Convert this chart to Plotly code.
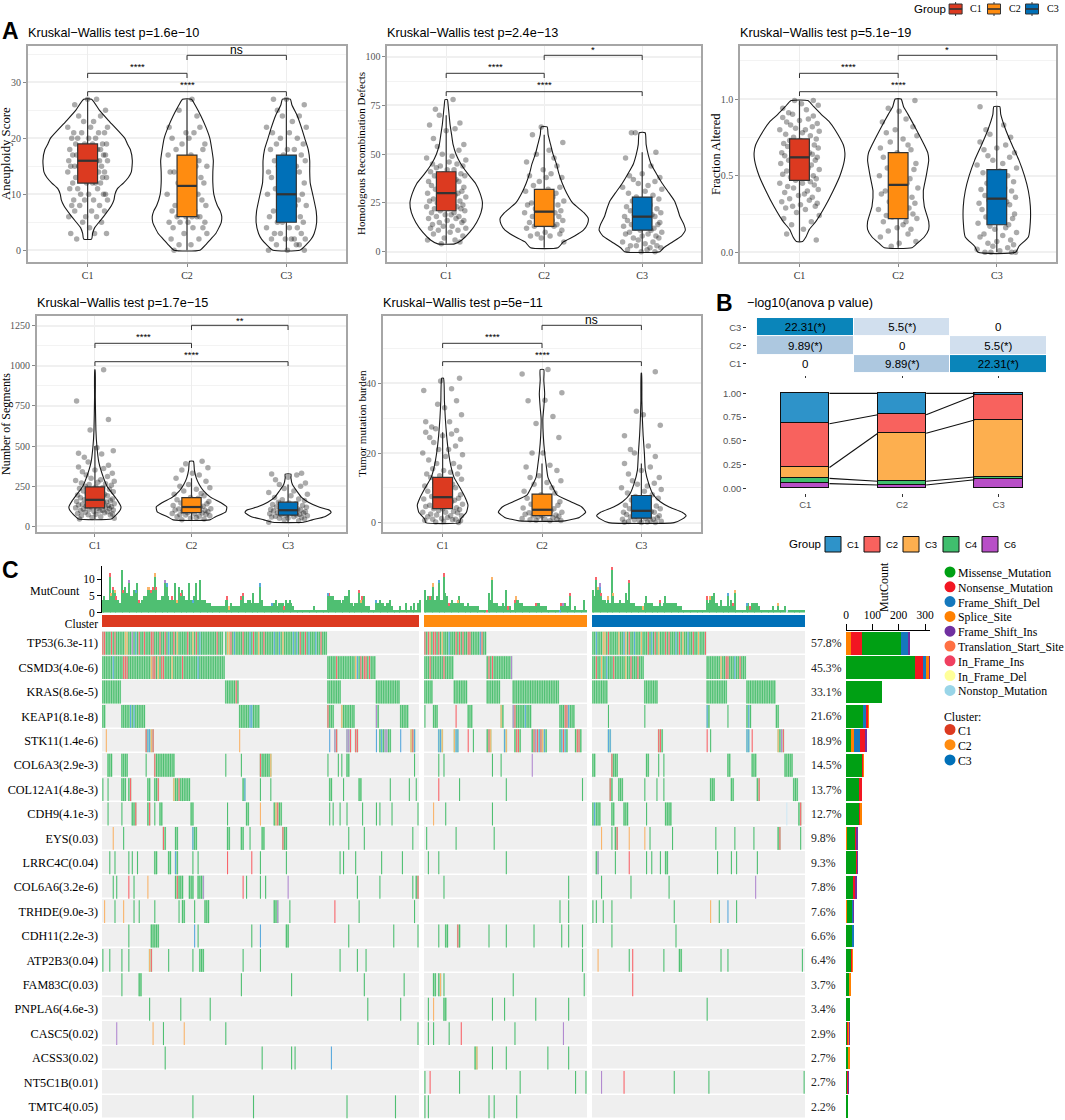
import plotly.graph_objects as go

W, H = 1065, 1120
SERIF = "Liberation Serif"
SANS = "Liberation Sans"
BOX_COL = ["#DC3A20", "#FF8C10", "#0070B8"]
CATS = ["C1", "C2", "C3"]

# ------------------- panel A data -------------------
TITLES = ["Kruskal\u2212Wallis test p=1.6e\u221210", "Kruskal\u2212Wallis test p=2.4e\u221213", "Kruskal\u2212Wallis test p=5.1e\u221219",
          "Kruskal\u2212Wallis test p=1.7e\u221215", "Kruskal\u2212Wallis test p=5e\u221211"]
YLABELS = ["Aneuploidy Score", "Homologous Recombination Defects", "Fraction Altered", "Number of Segments", "Tumor mutation burden"]
YLABEL_SIZE = [12.8, 11, 12.5, 12, 11.2]
SIG_TOP = ["ns", "*", "*", "**", "ns"]
YTICKS = [[0, 10, 20, 30], [0, 25, 50, 75, 100], [0, 0.5, 1.0], [0, 250, 500, 750, 1000, 1250], [0, 20, 40]]
YTICKTEXT = [["0", "10", "20", "30"], ["0", "25", "50", "75", "100"], ["0.0", "0.5", "1.0"], ["0", "250", "500", "750", "1000", "1250"], ["0", "20", "40"]]
YMINOR = [5, 12.5, 0.25, 125, 10]
YRANGE = [[-2.1, 36.5], [-5.3, 105.5], [-0.063, 1.346], [-35.6, 1310], [-2.7, 59.4]]
FRAMES = [(28, 346, 46, 262), (387.4, 701, 46, 262), (740.3, 1056, 46, 262), (37, 346, 316, 532), (383, 701, 316, 532)]
YTITLE_X = [6, 361, 716, 6, 362]

# quartiles: q1, median, q3, lower whisker, upper whisker
BOX_A1 = [[12, 16, 19, 2, 27], [6, 11.5, 17, 0, 27], [5, 10, 17, 0, 27]]
BOX_A2 = [[21, 30, 41, 4, 70], [13, 20.5, 32, 2, 60], [11, 18, 28, 0, 51]]
BOX_A3 = [[0.47, 0.62, 0.74, 0.07, 0.99], [0.22, 0.44, 0.65, 0.03, 1.0], [0.18, 0.35, 0.54, 0, 0.95]]
BOX_A4 = [[115, 165, 245, 45, 500], [85, 120, 178, 40, 300], [70, 100, 150, 25, 260]]
BOX_A5 = [[4, 7.3, 13, 0, 26], [2, 3.7, 8.2, 0.5, 17], [1.3, 3.4, 7.8, 0, 17]]

# violin outlines: value levels and half widths
VY_A1 = [[2,3,4,6,8,9,10,11,12,13,14,16,18,19,20,23,25,27],
         [0,1,2,3,4,5,6,7,8,10,12,14,16,18,20,22,24,26,27],
         [0,1,2,3,5,7,10,12,14,16,18,20,22,24,26,27]]
VW_A1 = [[.04,.05,.07,.16,.24,.265,.275,.30,.36,.41,.44,.45,.43,.40,.375,.22,.12,.04],
         [.13,.19,.24,.29,.32,.345,.35,.335,.305,.27,.26,.26,.265,.25,.23,.19,.14,.08,.045],
         [.135,.2,.25,.28,.305,.30,.265,.24,.235,.235,.22,.185,.15,.11,.055,.04]]
VY_A2 = [[4,6,10,15,20,25,30,35,40,45,50,55,60,65,70,75,78],
         [2,5,8,11,14,17,20,25,30,35,40,45,50,55,60,64],
         [0,2,5,8,11,14,18,22,26,30,35,40,45,50,55,61]]
VW_A2 = [[.085,.16,.24,.31,.355,.37,.345,.30,.22,.15,.10,.07,.055,.04,.03,.02,.012],
         [.14,.195,.31,.40,.44,.45,.405,.29,.23,.185,.15,.125,.09,.065,.04,.03],
         [.18,.22,.31,.40,.44,.425,.385,.36,.33,.275,.205,.145,.09,.06,.04,.03]]
VY_A3 = [[.07,.1,.15,.2,.3,.4,.5,.6,.65,.7,.8,.85,.9,.95,.99],
         [.03,.06,.1,.15,.2,.3,.4,.5,.6,.65,.7,.8,.9,.95,1.0],
         [0,.04,.1,.2,.3,.4,.5,.6,.7,.8,.9,.95]]
VW_A3 = [[.03,.065,.10,.165,.26,.34,.41,.455,.46,.445,.36,.305,.22,.145,.085],
         [.14,.195,.265,.31,.31,.265,.255,.285,.31,.30,.265,.185,.10,.055,.03],
         [.19,.225,.32,.34,.34,.32,.28,.225,.155,.09,.04,.03]]
VY_A4 = [[45,60,100,120,160,200,250,300,400,500,600,800,975],
         [40,60,90,120,150,180,220,260,300,350,405],
         [25,40,60,85,100,120,150,180,220,260,300,325]]
VW_A4 = [[.17,.2,.26,.27,.235,.185,.125,.09,.04,.02,.01,.004,.002],
         [.19,.25,.355,.365,.295,.2,.125,.08,.05,.03,.02],
         [.16,.25,.38,.445,.43,.32,.21,.14,.09,.045,.03,.03]]
VY_A5 = [[0,1,3,5,7,10,13,16,20,25,30,35,41.5],
         [.5,1.5,3,4.5,6,8,10,13,17,20,25,30,33,37,41,44],
         [0,1,2,3,4.5,6,8,11,15,20,25,30,35,43]]
VW_A5 = [[.17,.18,.24,.255,.23,.175,.115,.085,.06,.04,.027,.018,.009],
         [.23,.375,.44,.40,.29,.15,.11,.06,.04,.027,.013,.009,.018,.027,.018,.018],
         [.33,.41,.45,.41,.28,.19,.12,.076,.04,.03,.018,.01,.005,.002]]

JITTER = [-.11,.07,-.17,.19,.02,-.05,.14,-.19,.09,-.02,.17,-.13,.04,-.08,.12,-.16,.20,-.03,.06,-.14,
          .16,-.07,.01,.18,-.18,.10,-.10,.13,-.01,.05,-.15,.08,.19,-.06,-.12,.15,.03,-.20,.11,-.04,
          .17,-.09,.00,.14,-.17,.06,-.13,.20,-.02,.09,-.07,.12,-.19,.04,.16,-.11,-.05,.18,.02,-.15,
          .07,-.01,.13,-.18,.10,-.08,.05,.19,-.12,-.03,.15,-.16,.08,.01,-.10,.17,-.06,.11,-.14,.03,
          .20,-.20,.06,-.04,.13,-.09,.18,-.13,.00,.09,-.17,.14,-.07]
PTS_A1_C1 = [2,3,3,3,4,5,5,6,6,6,7,7,7,8,8,8,9,9,9,9,10,10,10,10,11,11,11,12,12,12,12,12,13,13,13,13,14,14,14,14,14,15,15,15,15,15,15,16,16,16,16,16,16,16,17,17,17,17,17,17,18,18,18,18,18,18,19,19,19,19,19,20,20,20,20,21,21,21,21,22,22,22,23,23,24,24,25,26,27,27]
PTS_A1_C2 = [0,1,1,2,2,3,3,4,4,4,5,5,5,5,6,6,6,6,6,7,7,8,8,8,9,9,10,10,11,12,12,13,13,14,14,14,15,15,15,16,16,17,17,18,18,19,19,20,20,21,21,22,22,24,25,27]
PTS_A1_C3 = [0,0,0,1,1,1,2,2,2,2,2,3,3,3,4,4,4,5,5,5,6,6,6,7,7,8,8,8,9,9,10,10,10,11,11,12,12,13,13,14,14,14,15,15,15,16,16,17,17,18,18,18,19,19,20,20,21,21,22,22,23,24,24,25,26,27,27]
PTS_A2_C1 = [4,5,6,6,7,8,9,10,11,11,12,12,13,13,14,15,15,16,16,17,17,18,18,19,19,20,20,21,21,22,22,23,23,23,24,24,25,25,26,26,27,27,28,28,29,29,30,30,31,31,32,32,33,33,34,35,35,36,36,37,38,38,39,39,40,40,41,42,42,43,44,44,45,45,46,47,48,49,50,52,54,55,58,62,63,65,66,70,73,78]
PTS_A2_C2 = [5,7,8,8,9,9,10,11,12,13,13,14,14,15,15,16,16,17,18,18,19,20,20,21,21,22,23,24,24,25,25,26,27,28,29,30,31,32,33,34,36,38,38,39,40,42,44,46,48,50,52,56,60,64]
PTS_A2_C3 = [0,0,1,1,2,2,3,3,3,4,5,5,6,7,7,8,8,9,9,10,10,11,11,12,12,13,13,14,14,15,15,16,16,17,17,18,18,19,19,20,20,21,22,22,23,24,25,26,27,28,29,30,31,32,33,34,35,36,37,38,39,40,44,48,51,61,61]
PTS_A3_C1 = [.08,.12,.15,.18,.2,.22,.24,.26,.28,.29,.3,.3,.31,.32,.33,.34,.35,.36,.37,.38,.39,.4,.41,.42,.43,.44,.45,.45,.46,.47,.48,.49,.5,.5,.51,.52,.53,.54,.55,.55,.56,.57,.58,.59,.6,.6,.61,.62,.62,.63,.63,.64,.64,.65,.65,.66,.67,.68,.69,.7,.7,.71,.72,.73,.73,.74,.75,.76,.77,.78,.79,.8,.8,.81,.82,.83,.84,.85,.86,.87,.88,.89,.9,.91,.93,.94,.96,.97,.99,.99]
PTS_A3_C2 = [.04,.06,.07,.1,.12,.14,.15,.16,.18,.2,.2,.22,.23,.24,.25,.27,.28,.29,.3,.32,.33,.35,.36,.38,.39,.4,.42,.43,.45,.47,.48,.5,.52,.54,.55,.57,.58,.6,.62,.63,.65,.67,.68,.7,.72,.74,.76,.78,.8,.82,.85,.87,.92,.94,.99]
PTS_A3_C3 = [0,0,0,0,.01,.02,.03,.04,.05,.06,.07,.08,.1,.11,.12,.13,.15,.16,.17,.18,.19,.2,.22,.23,.24,.25,.26,.28,.29,.3,.31,.32,.33,.34,.35,.36,.37,.38,.4,.41,.42,.44,.45,.46,.48,.5,.52,.53,.55,.57,.58,.6,.62,.63,.65,.67,.68,.7,.72,.75,.77,.8,.83,.95]
PTS_A4_C1 = [45,50,55,60,65,70,72,75,78,80,85,88,90,92,95,98,100,102,105,108,110,112,115,118,120,122,125,128,130,132,135,138,140,145,148,150,152,155,158,160,165,168,170,175,178,180,185,190,195,200,205,210,215,220,225,230,235,240,245,250,255,260,265,270,275,280,285,290,300,310,320,330,340,350,360,370,380,400,430,450,455,470,490,600,665,780,975]
PTS_A4_C2 = [40,45,50,55,60,62,65,70,72,75,78,80,82,85,90,92,95,100,102,105,108,110,115,118,120,125,130,135,140,145,150,155,160,165,175,180,190,200,205,220,230,240,250,260,280,300,320,330,350,365,390,405]
PTS_A4_C3 = [25,35,40,45,50,52,55,58,60,62,65,68,70,72,75,78,80,82,85,88,90,92,95,98,100,102,105,108,110,115,118,120,125,130,135,140,145,150,160,165,170,180,190,200,210,220,235,250,260,270,290,305,320,325,330]
PTS_A5_C1 = [0,.2,.4,.5,.7,.8,1,1,1.2,1.5,1.7,2,2,2.2,2.5,2.8,3,3,3.2,3.5,3.8,4,4,4.3,4.6,5,5,5.3,5.6,6,6,6.4,6.8,7,7,7.5,8,8,8.5,9,9.5,10,10,10.5,11,11.5,12,12.5,13,13.5,14,14,14.5,15,15.5,16,17,17,18,19,19.5,20,21,21,22,23,24,24.5,25,25.5,26,26.5,27,27.5,29,29,31,33,34,35,38,38.5,40.7,41.5]
PTS_A5_C2 = [.5,.6,.7,.8,1,1,1.2,1.4,1.6,1.8,2,2,2.2,2.4,2.6,2.8,3,3.2,3.4,3.6,4,4.2,4.5,5,5.3,5.6,6,6.5,7,7.5,8,8.5,9,10,11,11.5,12,13,13.5,15,16,16.5,20,20,24.5,28.5,30.5,35,35.2,37.3,42.7,44]
PTS_A5_C3 = [0,0,.1,.2,.3,.4,.5,.6,.8,1,1,1.2,1.4,1.6,1.8,2,2,2.3,2.5,2.8,3,3,3.2,3.5,3.8,4,4,4.4,4.8,5,5.5,6,6.5,7,7.5,8,8.5,9,9.5,10,10.5,11,11.3,12,13,14,15,16,17,19,20,21,22,25,28,31,32,43.4]

BOXES = [BOX_A1, BOX_A2, BOX_A3, BOX_A4, BOX_A5]
VYS = [VY_A1, VY_A2, VY_A3, VY_A4, VY_A5]
VWS = [VW_A1, VW_A2, VW_A3, VW_A4, VW_A5]
PTS = [[PTS_A1_C1, PTS_A1_C2, PTS_A1_C3], [PTS_A2_C1, PTS_A2_C2, PTS_A2_C3], [PTS_A3_C1, PTS_A3_C2, PTS_A3_C3],
       [PTS_A4_C1, PTS_A4_C2, PTS_A4_C3], [PTS_A5_C1, PTS_A5_C2, PTS_A5_C3]]

# ------------------- panel B data -------------------
ANOVA = [[0, 9.89, 22.31], [9.89, 0, 5.5], [22.31, 5.5, 0]]          # rows C1,C2,C3 bottom to top
ANOVA_TEXT = [["0", "9.89(*)", "22.31(*)"], ["9.89(*)", "0", "5.5(*)"], ["22.31(*)", "5.5(*)", "0"]]
STACK_NAMES = ["C6", "C4", "C3", "C2", "C1"]
STACK_COLORS = ["#B84FC7", "#40BE6E", "#FDAF4F", "#F8625E", "#2E93C9"]
STACK_C6 = [.05, .035, .09]
STACK_C4 = [.055, .04, .03]
STACK_C3 = [.115, .505, .60]
STACK_C2 = [.46, .195, .255]
STACK_C1 = [.32, .225, .025]

# ------------------- panel C data -------------------
N_C1, N_C2, N_C3 = 183, 94, 123
GENES = ["TP53(6.3e-11)", "CSMD3(4.0e-6)", "KRAS(8.6e-5)", "KEAP1(8.1e-8)", "STK11(1.4e-6)", "COL6A3(2.9e-3)", "COL12A1(4.8e-3)",
         "CDH9(4.1e-3)", "EYS(0.03)", "LRRC4C(0.04)", "COL6A6(3.2e-6)", "TRHDE(9.0e-3)", "CDH11(2.2e-3)", "ATP2B3(0.04)",
         "FAM83C(0.03)", "PNPLA6(4.6e-3)", "CASC5(0.02)", "ACSS3(0.02)", "NT5C1B(0.01)", "TMTC4(0.05)"]
PCTS = ["57.8%", "45.3%", "33.1%", "21.6%", "18.9%", "14.5%", "13.7%", "12.7%", "9.8%", "9.3%", "7.8%", "7.6%", "6.6%", "6.4%",
        "3.7%", "3.4%", "2.9%", "2.7%", "2.7%", "2.2%"]
# per gene, one string per cluster: "a-b" missense run; prefix r/b/o/p/n marks another mutation type
TP53 = ["0-69 71-129 r0 r1 r5 r7 o13 o14 p17 b19 r21 r24 r28 r29 r33 r36 b38 r41 o43 r49 o52 r54 b56 r66 o72 o73 r74 b76 r81 b85 r87 o90 r93 b99 b102 o104 b110 b112 r114 r117 b119 b123 r126",
        "0-35 r0 r2 o3 r5 r6 r8 o10 b14 r18 r20 r22 r25 r26 b32 r33",
        "0-65 b2 o6 o7 r9 o15 b18 o19 r21 b24 o28 r32 b34 r36 o38 r42 r44 b48 r50 o52 b55 r58 o61 r65"]
CSMD3 = ["0-70 130-157 r12 r13 r14 b6 o28 r29 r30 o32 r34 r35 o40 r46 b55 r135 o146 b147 r149 r151 r152 r154",
         "0-16 36-50 r3 r11 r37 r39 p50", "0-29 66-88 r2 o5 b8 r12 o19 r22 r26 o74 r77 r78 b82 r85"]
KRAS = ["0-10 71-78 130-137 158-171 r77", "0-4 17-24 36-43 51-77", "0-8 30-37 66-77 89-105"]
KEAP1 = ["0-1 11-24 79-90 130-133 138-145 158-159 172-176 b16 b18 b85 b86 r130 o138 p158",
         "0 5-7 r18 25-27 44-45 o44 51-61 p51 r52 b58 78-86 r81 r82 b83", "9 30 66-67 b66 78 89-91 b90 106-107"]
STK11 = ["o2 r25 b26 b27 o28 r29 o79 b131 p134 r135 p141 p142 r143 r146 r147 b158 160-166 b161 p163 p164 b172 o178 r179 p180 b180",
         "b8 b9 o10 o17 b18 b19 r25 28 36-38 r37 o38 b46 o47 52-55 r53 r54 62-70 r63 p64 r65 b66 r67 o68 b69 78-82 b79 r80 b81 87-90 r88 r89",
         "b9 b10 r38 r39 40 r66 68 b89 b90 r92 o107 108 p109 r110"]
COL6A3 = ["3-5 11-14 25 30-41 r30 71 80 91-97 r91 o97 130 136 138 141-142 180", "8 11 39 44 p62", "0-1 11-14 r11 31-32 38 41 78-79 92-94 111-115"]
COL12A1 = ["0 3 11-13 15-16 r16 26-27 30-32 r32 41-50 o41 r44 81-82 b82 91 97 131-132 139 148-149 166 177 181", "r8 20 47 91", "r10 11 15-17 30 37 41 68-70 80-81 95-96 r96 116-118"]
CDH9 = ["3 11 17-19 r19 26-27 r27 30 33-34 51-52 72 83-84 o91 99-103 o100 r101 131 133 137 141 150 158 160 167 182", "o5 12 39", "0-4 b1 11-12 18-20 31 42-45 n112 119 r120"]
EYS = ["o6 12 35-36 r35 42-43 52-54 b52 72-73 80-81 85 92-93 104-106 r104 142 151 179", "1 18 40", "o5 11 13-14 r14 o21 o30 33 46 71 82 93 107-108 r108 120"]
LRRC4C = ["4 7 15 17 20 30-31 38-39 b42 43 52 55 r72 r86 91 106 137 139 146 161 173", "2 8 47", "2-3 p3 13 r21 31 34 39 42-43 72 80 83 95"]
COL6A6 = ["6 8 r15 18 o26 42 43-46 r43 50-52 55-58 p58 r81 83 91 94 p107 147 160 179 181-182 r182", "11 83", "5 22 44 p94"]
TRHDE = ["o1 7 o12 18 21 30 44 46-47 53 59-61 99-101 p101 108 r134 148 180", "78 83", "0 2 6 11 47 o68 73 b78 83"]
CDH11 = ["15 28-32 b53 55 86 b91 106-107 142 168 182", "8 12-13 r19 20 37 47 63 79 83 91", "11 48"]
ATP2B3 = ["0 4 11 15 o27 r28 38 52 56-58 81 91 137 147 152", "91", "o3 21 r23 41 50-51 74 78 121"]
FAM83C = ["11 21-22 80 109 151 174", "5-6 8 o9 11 51 92", "r23"]
PNPLA6 = ["27 45 62 153 172", "2 o5 11-12 39 46 64 83", "66"]
CASC5 = ["p8 o29 35 o47 71 182", "2 5 14 r21 52 p80", ""]
ACSS3 = ["36 92 109 111 b132", "29 o30 39 47 71 83", ""]
NT5C1B = ["", "0 r3 20 55 87 93", "p5 r18 47 67 122"]
TMTC4 = ["52 87 141 169", "0 2 37 40 53", ""]
ONCO_ROWS = [TP53, CSMD3, KRAS, KEAP1, STK11, COL6A3, COL12A1, CDH9, EYS, LRRC4C, COL6A6, TRHDE, CDH11, ATP2B3, FAM83C, PNPLA6, CASC5, ACSS3, NT5C1B, TMTC4]

# per sample mutation count, one hex digit per sample
MUT_C1 = "4544c687543d786a5577943455887 8c84455a954549486754494459 4a4443332222222245232222256334436333942222233423332434321111111111121111111665544443455733233745522211143433233421111211311213134".replace(" ", "")
MUT_C2 = "74555945a44c653343345332232222221111164b33322327221145433222222233322221111111133322611211114 1".replace(" ", "")
MUT_C3 = "75b89644353e633343364a33322222353332222423533333322211111111111111535563324222624371111113323333211111112113111211111111111"
ACC_C1 = "r4 o5 r6 o7 r8 r12 p15 b19 r21 o26 o27 r28 r29 o30 r31 p36 b37 r40 o43 r45 b52 r72 o73 r80 r81 b91 b98 r105 b130 r131 r148 o149 r150 b158"
ACC_C2 = "r3 o5 b8 r11 r14 o19 r36 o39 r48 r52 o53 r64 b78 r79 p80 r84"
ACC_C3 = "r2 o3 b4 p4 r5 o9 r11 o12 r21 o29 r39 r66 o68 b78 o82 r81 b89 r91 o107 n112"

# horizontal bars on the right
BAR_LEAD_SPL = [19, 0, 0, 0, 0, 0, 0, 0, 4, 0, 0, 3, 0, 0, 0, 0, 0, 0, 0, 0]
BAR_LEAD_NON = [42, 0, 0, 0, 0, 0, 0, 0, 0, 0, 0, 0, 0, 0, 0, 0, 0, 0, 0, 0]
BAR_MIS = [147, 262, 135, 66, 19, 62, 53, 53, 33, 39, 30, 23, 24, 21, 14, 15, 7, 10, 5, 9]
BAR_SPL2 = [0, 0, 0, 0, 11, 0, 0, 0, 0, 0, 0, 0, 0, 0, 0, 0, 0, 0, 0, 0]
BAR_DEL1 = [31, 0, 0, 10, 23, 0, 0, 0, 0, 0, 0, 2, 4, 0, 0, 0, 0, 0, 0, 0]
BAR_NON = [0, 32, 0, 9, 21, 4, 7, 3, 3, 4, 6, 0, 0, 2, 1, 0, 3, 0, 4, 0]
BAR_DEL2 = [0, 9, 0, 0, 0, 0, 0, 0, 0, 0, 0, 0, 0, 0, 0, 0, 0, 1, 0, 0]
BAR_SPL = [0, 13, 0, 1, 0, 2, 0, 4, 0, 0, 0, 0, 0, 3, 2, 0, 2, 1, 0, 0]
BAR_INS = [1, 1, 0, 0, 4, 0, 0, 0, 3, 1, 3, 1, 0, 0, 0, 0, 1, 0, 1, 0]

LEG_MUT = ["Missense_Mutation", "Nonsense_Mutation", "Frame_Shift_Del", "Splice_Site", "Frame_Shift_Ins", "Translation_Start_Site", "In_Frame_Ins", "In_Frame_Del", "Nonstop_Mutation"]
LEG_MUT_COL = ["#00A014", "#F21622", "#1578BD", "#FF8000", "#7030A0", "#FF7043", "#F04060", "#FFFF99", "#99D5E8"]
CELL_COL = {"g": "#4FBF72", "r": "#F8656B", "b": "#5AA9DD", "o": "#F9B46B", "p": "#B28AD0", "n": "#CFE8F5"}
RUN_UNDER = "#A9E0B7"

# ------------------- helpers -------------------
fig = go.Figure()
layout = dict(width=W, height=H, margin=dict(l=0, r=0, t=0, b=0, autoexpand=False), paper_bgcolor="white", plot_bgcolor="white",
              showlegend=False, barmode="stack", bargap=0, font=dict(family=SERIF, color="#000"))
annos, shapes = [], []

def dx(l, r):
    return [l / W, r / W]

def dy(t, b):
    return [1 - b / H, 1 - t / H]

def ann(x, y, text, size, family=SERIF, color="#000", xanchor="left", angle=0, bold=False):
    annos.append(dict(x=x / W, y=1 - y / H, xref="paper", yref="paper", text=("<b>%s</b>" % text) if bold else text, showarrow=False,
                      font=dict(size=size, family=family, color=color), xanchor=xanchor, yanchor="middle", textangle=angle,
                      borderpad=0, borderwidth=0))

def pshape(kind, x0, y0, x1, y1, **kw):
    shapes.append(dict(type=kind, xref="paper", yref="paper", x0=x0 / W, x1=x1 / W, y0=1 - y0 / H, y1=1 - y1 / H, **kw))

# ------------------- panel A -------------------
GRID = "#EDEDED"
for p in range(5):
    l, r, t, b = FRAMES[p]
    n = p + 1
    sfx = "" if n == 1 else str(n)
    layout["xaxis" + sfx] = dict(domain=dx(l, r), range=[0.4, 3.6], anchor="y" + sfx, tickvals=[1, 2, 3], ticktext=CATS,
                                 tickfont=dict(size=10, family=SERIF, color="#333"), ticks="outside", ticklen=3, tickcolor="#888",
                                 showline=True, mirror=True, linecolor="#A6A6A6", linewidth=2, showgrid=True, gridcolor=GRID, gridwidth=1, zeroline=False)
    layout["yaxis" + sfx] = dict(domain=dy(t, b), range=YRANGE[p], anchor="x" + sfx, tickvals=YTICKS[p], ticktext=YTICKTEXT[p],
                                 tickfont=dict(size=10, family=SERIF, color="#555"), ticks="outside", ticklen=3, tickcolor="#888",
                                 showline=True, mirror=True, linecolor="#A6A6A6", linewidth=2, showgrid=True, gridcolor="#F0F0F0", gridwidth=2, zeroline=False,
                                 minor=dict(dtick=YMINOR[p], showgrid=True, gridcolor="#F3F3F3", gridwidth=1, ticks=""))
    ov = str(20 + n)
    layout["xaxis" + ov] = dict(overlaying="x" + sfx, matches="x" + sfx, anchor="y" + ov, visible=False)
    layout["yaxis" + ov] = dict(overlaying="y" + sfx, matches="y" + sfx, anchor="x" + ov, visible=False)
    ann(l, t - 13, TITLES[p], 12.7, family=SANS)
    ann(YTITLE_X[p], (t + b) / 2, YLABELS[p], YLABEL_SIZE[p], xanchor="center", angle=-90)
    for c in range(3):
        cx = c + 1
        lo = [cx - w for w in VWS[p][c]]
        hi = [cx + w for w in VWS[p][c]]
        fig.add_trace(go.Scatter(x=lo + hi[::-1] + lo[:1], y=VYS[p][c] + VYS[p][c][::-1] + VYS[p][c][:1], mode="lines",
                                 line=dict(color="#1A1A1A", width=1.1, shape="spline", smoothing=0.5),
                                 xaxis="x" + sfx, yaxis="y" + sfx, hoverinfo="skip"))
        ys = PTS[p][c]
        xs = [cx + JITTER[(i + 11 * c + 5 * p) % len(JITTER)] for i in range(len(ys))]
        fig.add_trace(go.Scatter(x=xs, y=ys, mode="markers", marker=dict(color="rgba(0,0,0,0.33)", size=5.5, line=dict(width=0)),
                                 xaxis="x" + sfx, yaxis="y" + sfx, hoverinfo="skip"))
        q1, med, q3, wl, wh = BOXES[p][c]
        fig.add_trace(go.Box(x=[cx], q1=[q1], median=[med], q3=[q3], lowerfence=[wl], upperfence=[wh], width=0.2, whiskerwidth=0,
                             boxpoints=False, fillcolor=BOX_COL[c], line=dict(color="#333333", width=1.2),
                             xaxis="x" + ov, yaxis="y" + ov, hoverinfo="skip"))
        fig.add_trace(go.Scatter(x=[cx - 0.1, cx + 0.1], y=[med, med], mode="lines", line=dict(color="#333333", width=2.2),
                                 xaxis="x" + ov, yaxis="y" + ov, hoverinfo="skip"))
    # significance brackets
    h = b - t
    xname = "x" + sfx
    yname = "y" + sfx
    for (a, e, top, drop, lab, laby, ls) in [(2, 3, 9.3, 14, SIG_TOP[p], 4, 12 if SIG_TOP[p] == "ns" else 9.5),
                                             (1, 2, 27.3, 32, "****", 20.5, 9.5), (1, 3, 45.7, 50, "****", 38.8, 9.5)]:
        yt, yb = 1 - top / h, 1 - drop / h
        sty = dict(color="#333333", width=1)
        shapes.append(dict(type="line", xref=xname, yref=yname + " domain", x0=a, x1=e, y0=yt, y1=yt, line=sty))
        shapes.append(dict(type="line", xref=xname, yref=yname + " domain", x0=a, x1=a, y0=yt, y1=yb, line=sty))
        shapes.append(dict(type="line", xref=xname, yref=yname + " domain", x0=e, x1=e, y0=yt, y1=yb, line=sty))
        annos.append(dict(x=(a + e) / 2, xref=xname, y=1 - laby / h, yref=yname + " domain", text=lab, showarrow=False,
                          font=dict(size=ls, family=SANS, color="#000"), xanchor="center", yanchor="middle"))

# panel letters and top legend
ann(2, 31, "A", 23, family=SANS, bold=True)
ann(716, 303, "B", 23, family=SANS, bold=True)
ann(2, 570, "C", 23, family=SANS, bold=True)
ann(914, 9, "Group", 11.5, family=SANS)
for kx, lab, col in zip([955.6, 994, 1032], CATS, BOX_COL):
    pshape("line", kx, 2, kx, 16, line=dict(color="#333", width=1))
    pshape("rect", kx - 6.5, 4, kx + 6.5, 14, fillcolor=col, line=dict(color="#333", width=1))
    pshape("line", kx - 6.5, 9, kx + 6.5, 9, line=dict(color="#333", width=1.6))
    ann(kx + 14.5, 9, lab, 10)

# ------------------- panel B -------------------
B_L, B_R = 747.3, 1056.7
layout["xaxis6"] = dict(domain=dx(B_L, B_R), range=[0.4, 3.6], anchor="y6", tickvals=[1, 2, 3], ticktext=["", "", ""], ticks="outside", ticklen=2,
                        tickcolor="#333", showgrid=False, zeroline=False)
layout["yaxis6"] = dict(domain=dy(316, 375), range=[0.39, 3.61], anchor="x6", tickvals=[1, 2, 3], ticktext=CATS, ticks="outside", ticklen=3,
                        tickcolor="#333", tickfont=dict(size=9.5, family=SANS, color="#555"), showgrid=False, zeroline=False)
fig.add_trace(go.Heatmap(x=[1, 2, 3], y=[1, 2, 3], z=ANOVA, text=ANOVA_TEXT, texttemplate="%{text}", textfont=dict(size=11.5, family=SANS, color="#000"),
                         colorscale=[[0, "#FFFFFF"], [0.2465, "#D1DFEE"], [0.443, "#ADC8E0"], [1, "#0A85BA"]], zmin=0, zmax=22.31, showscale=False,
                         xgap=1, ygap=1, xaxis="x6", yaxis="y6", hoverinfo="skip"))
layout["xaxis7"] = dict(domain=dx(B_L, B_R), range=[0.4, 3.6], anchor="y7", tickvals=[1, 2, 3], ticktext=CATS, ticks="outside", ticklen=3, tickcolor="#333",
                        tickfont=dict(size=9.5, family=SANS, color="#555"), showgrid=True, gridcolor="#FFFFFF", zeroline=False)
layout["yaxis7"] = dict(domain=dy(388.3, 492.7), range=[-0.046, 1.053], anchor="x7", tickvals=[0, .25, .5, .75, 1], ticktext=["0.00", "0.25", "0.50", "0.75", "1.00"],
                        ticks="outside", ticklen=3, tickcolor="#333", tickfont=dict(size=9.5, family=SANS, color="#555"), showgrid=True, gridcolor="#FFFFFF", zeroline=False)
STACKS = [STACK_C6, STACK_C4, STACK_C3, STACK_C2, STACK_C1]
for vals, col, nm in zip(STACKS, STACK_COLORS, STACK_NAMES):
    fig.add_trace(go.Bar(x=[1, 2, 3], y=vals, width=0.5, marker=dict(color=col, line=dict(color="#111", width=1)), name=nm, xaxis="x7", yaxis="y7", hoverinfo="skip"))
cum = [0, 0, 0]
for vals in STACKS:
    cum = [a + v for a, v in zip(cum, vals)]
    fig.add_trace(go.Scatter(x=[1.25, 1.75, None, 2.25, 2.75], y=[cum[0], cum[1], None, cum[1], cum[2]], mode="lines", line=dict(color="#111", width=1.1),
                             xaxis="x7", yaxis="y7", hoverinfo="skip"))
ann(747, 303, "\u2212log10(anova p value)", 12.7, family=SANS)
ann(789, 544, "Group", 11.5, family=SANS)
for kx, lab, col in zip([825, 864, 903, 943, 982], STACK_NAMES[::-1], STACK_COLORS[::-1]):
    pshape("rect", kx, 536.5, kx + 16, 552, fillcolor=col, line=dict(color="#111", width=1))
    ann(kx + 21.5, 544, lab, 9.5, family=SANS)

# ------------------- panel C -------------------
OFF = [0, N_C1 + 3, N_C1 + N_C2 + 6]
SIZES = [N_C1, N_C2, N_C3]
TOTAL = N_C1 + N_C2 + N_C3 + 6
ALL_X = list(range(TOTAL))
MASK = [None] * TOTAL
for o, s in zip(OFF, SIZES):
    for i in range(s):
        MASK[o + i] = 0
ONC_L, ONC_R = 102, 805
xr = [-0.5, TOTAL - 0.5]

def parse(tok_str):
    """turn a run string into {sample: type}"""
    out = {}
    for tok in tok_str.split():
        kind = tok[0] if tok[0].isalpha() else "g"
        body = tok[1:] if tok[0].isalpha() else tok
        a, _, e = body.partition("-")
        for i in range(int(a), int(e or a) + 1):
            out[i] = kind
    return out

# matrix background
layout["xaxis10"] = dict(domain=dx(ONC_L, ONC_R), range=xr, anchor="y10", visible=False)
layout["yaxis10"] = dict(domain=dy(631, 1119), range=[20.5, 0.5], anchor="x10", tickvals=list(range(1, 21)), ticktext=GENES, ticks="", showline=False,
                         tickfont=dict(size=12.2, family=SERIF, color="#000"), showgrid=False, zeroline=False, ticklabelstandoff=3)
ROWS = list(range(1, 21))
fig.add_trace(go.Heatmap(x=ALL_X, y=ROWS, z=[MASK for _ in ROWS], colorscale=[[0, "#EFEFEF"], [1, "#EFEFEF"]], zmin=0, zmax=1, showscale=False,
                         ygap=1.5, xaxis="x10", yaxis="y10", hoverinfo="skip"))
segs = {k: ([], []) for k in CELL_COL}
under = ([], [])
for r_i, row in enumerate(ONCO_ROWS):
    for o, s in zip(OFF, row):
        cells = parse(s)
        for idx, kind in cells.items():
            segs[kind][0].extend([o + idx, o + idx, None])
            segs[kind][1].extend([r_i + 1 - 0.47, r_i + 1 + 0.47, None])
            if idx + 1 in cells or idx - 1 in cells:
                under[0].extend([o + idx, o + idx, None])
                under[1].extend([r_i + 1 - 0.47, r_i + 1 + 0.47, None])
fig.add_trace(go.Scatter(x=under[0], y=under[1], mode="lines", line=dict(color=RUN_UNDER, width=1.8), xaxis="x10", yaxis="y10", hoverinfo="skip"))
for kind, (sx, sy) in segs.items():
    fig.add_trace(go.Scatter(x=sx, y=sy, mode="lines", line=dict(color=CELL_COL[kind], width=1.1), xaxis="x10", yaxis="y10", hoverinfo="skip"))
for r_i, pct in enumerate(PCTS):
    annos.append(dict(x=809 / W, xref="paper", y=r_i + 1, yref="y10", text=pct, showarrow=False, xanchor="left", yanchor="middle",
                      font=dict(size=11.8, family=SERIF, color="#222")))

# cluster strip
layout["xaxis9"] = dict(domain=dx(ONC_L, ONC_R), range=xr, anchor="y9", visible=False)
layout["yaxis9"] = dict(domain=dy(615, 627), range=[-0.5, 0.5], anchor="x9", tickvals=[-0.25], ticktext=["Cluster"], ticks="", showline=False,
                        tickfont=dict(size=11.5, family=SERIF, color="#000"), showgrid=False, zeroline=False, ticklabelstandoff=3)
strip = [None] * TOTAL
for c, (o, s) in enumerate(zip(OFF, SIZES)):
    for i in range(s):
        strip[o + i] = c
fig.add_trace(go.Heatmap(x=ALL_X, y=[0], z=[strip], colorscale=[[0, BOX_COL[0]], [0.5, BOX_COL[1]], [1, BOX_COL[2]]], zmin=0, zmax=2, showscale=False,
                         xaxis="x9", yaxis="y9", hoverinfo="skip"))

# mutation count bars
layout["xaxis8"] = dict(domain=dx(ONC_L, ONC_R), range=xr, anchor="y8", visible=False)
layout["yaxis8"] = dict(domain=dy(565.5, 612.5), range=[0, 14.2], anchor="x8", tickvals=[0, 5, 10], ticks="outside", ticklen=4, tickcolor="#000",
                        tickfont=dict(size=11.5, family=SERIF, color="#000"), showline=True, linecolor="#000", linewidth=1, showgrid=False, zeroline=False)
totals = [0] * TOTAL
for o, s in zip(OFF, [MUT_C1, MUT_C2, MUT_C3]):
    for i, ch in enumerate(s):
        totals[o + i] = int(ch, 16)
acc = {k: [0] * TOTAL for k in "rbopn"}
for o, s in zip(OFF, [ACC_C1, ACC_C2, ACC_C3]):
    for tok in s.split():
        acc[tok[0]][o + int(tok[1:])] += 1
green = [max(t - sum(acc[k][i] for k in acc), 0) for i, t in enumerate(totals)]
fig.add_trace(go.Bar(x=ALL_X, y=green, width=0.85, marker=dict(color=CELL_COL["g"], line=dict(width=0)), xaxis="x8", yaxis="y8", hoverinfo="skip"))
for k in "rbopn":
    fig.add_trace(go.Bar(x=ALL_X, y=acc[k], width=0.85, marker=dict(color=CELL_COL[k], line=dict(width=0)), xaxis="x8", yaxis="y8", hoverinfo="skip"))
ann(80, 591, "MutCount", 12, xanchor="right")

# right stacked bars
layout["xaxis11"] = dict(domain=dx(846, 930), range=[0, 319], anchor="y11", side="top", tickvals=[0, 100, 200, 300], ticks="outside", ticklen=6, tickcolor="#000",
                         tickfont=dict(size=11.5, family=SERIF, color="#000"), showline=True, linecolor="#000", linewidth=1, showgrid=False, zeroline=False)
layout["yaxis11"] = dict(domain=dy(631, 1119), range=[20.5, 0.5], anchor="x11", visible=False)
for vals, col in [(BAR_LEAD_SPL, "#FF8000"), (BAR_LEAD_NON, "#F21622"), (BAR_MIS, "#00A014"), (BAR_SPL2, "#FF8000"), (BAR_DEL1, "#1578BD"), (BAR_NON, "#F21622"),
                  (BAR_DEL2, "#1578BD"), (BAR_SPL, "#FF8000"), (BAR_INS, "#7030A0")]:
    fig.add_trace(go.Bar(y=ROWS, x=vals, orientation="h", width=0.93, marker=dict(color=col, line=dict(width=0)), xaxis="x11", yaxis="y11", hoverinfo="skip"))
ann(884, 587, "MutCount", 12, xanchor="center", angle=-90)

# right hand legends
for i, (lab, col) in enumerate(zip(LEG_MUT, LEG_MUT_COL)):
    y = 572 + i * 14.8
    pshape("circle", 944.5, y - 5.5, 955.5, y + 5.5, fillcolor=col, line=dict(width=0))
    ann(958, y + 1, lab, 11.8)
ann(943.5, 717, "Cluster:", 11.8)
for i, (lab, col) in enumerate(zip(CATS, BOX_COL)):
    y = 729.5 + i * 15.2
    pshape("circle", 944.5, y - 5.5, 955.5, y + 5.5, fillcolor=col, line=dict(width=0))
    ann(958, y + 1, lab, 11.8)

layout["annotations"] = annos
layout["shapes"] = shapes
fig.update_layout(**layout)
fig.write_html("out.html", config=dict(displayModeBar=False), post_script="document.body.style.margin='0';")
